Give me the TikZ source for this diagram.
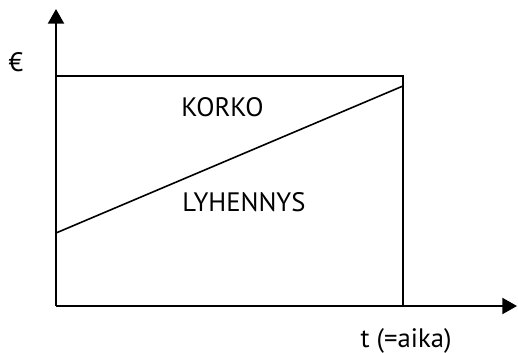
\documentclass[tikz,border=0pt]{standalone}
\usepackage{fontspec}
\setmainfont{PT Sans}
\usetikzlibrary{arrows.meta}
\begin{document}
\begin{tikzpicture}[x=0.75pt,y=-0.75pt,
  axis/.style={line width=1.6pt,-{Triangle[length=11pt,width=12pt]}},
  box/.style={line width=1.2pt},
  lbl/.style={font=\fontsize{20}{22}\selectfont,inner sep=0pt}]
\useasboundingbox (0,0) rectangle (518,353);
\coordinate (O) at (56,306);
\coordinate (ytop) at (56,9);
\coordinate (xend) at (517,306);
\coordinate (tl) at (56,76);
\coordinate (tr) at (403,76);
\coordinate (br) at (403,306);
\coordinate (dl) at (56,233);
\coordinate (dr) at (403,86);
\draw[box] (tl) -- (tr) -- (br);
\draw[box] (dl) -- (dr);
\draw[axis] (O) -- (ytop);
\draw[axis] (O) -- (xend);
\node[lbl] (euro) at (16,62) {€};
\node[lbl] (korko) at (222.5,107.5) {KORKO};
\node[lbl] (lyh) at (244,202.5) {LYHENNYS};
\node[lbl] (t) at (406,341) {t (=aika)};
\end{tikzpicture}
\end{document}
